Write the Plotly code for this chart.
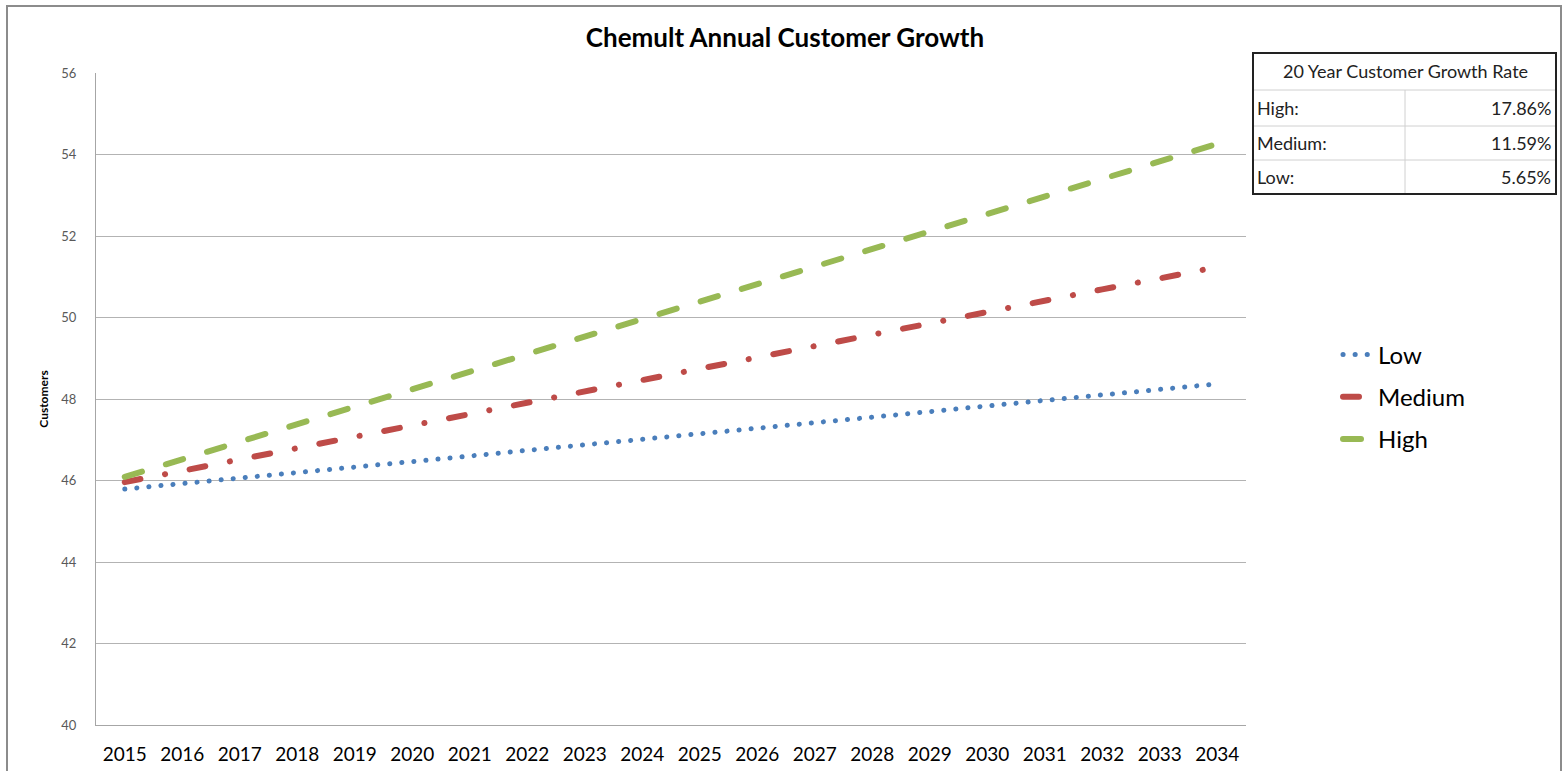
import plotly.graph_objects as go

years = [str(y) for y in range(2015, 2035)]
low = [45.79, 45.93, 46.06, 46.20, 46.33, 46.47, 46.60, 46.74, 46.88, 47.01,
       47.15, 47.28, 47.42, 47.56, 47.69, 47.83, 47.96, 48.10, 48.23, 48.37]
medium = [45.96, 46.24, 46.52, 46.79, 47.07, 47.35, 47.63, 47.91, 48.18, 48.46,
          48.74, 49.02, 49.30, 49.57, 49.85, 50.13, 50.41, 50.69, 50.96, 51.24]
high = [46.09, 46.52, 46.95, 47.38, 47.81, 48.24, 48.67, 49.10, 49.53, 49.96,
        50.39, 50.82, 51.25, 51.68, 52.11, 52.54, 52.97, 53.40, 53.83, 54.26]

table_title = "20 Year Customer Growth Rate"
table_labels = ["High:", "Medium:", "Low:"]
table_values = ["17.86%", "11.59%", "5.65%"]

W, H = 1565, 771
# plot area in pixels
LS, RS, TS, BS = 96, 1246, 73, 725
FONT = "Lato"


def px(x):
    return (x - LS) / (RS - LS)


def py(y):
    return (BS - y) / (BS - TS)


fig = go.Figure()
fig.add_trace(go.Scatter(x=years, y=low, name="Low", mode="lines", legendgroup="a",
                         line=dict(color="#4A7EBB", width=5, dash="0.1px,12px")))
fig.add_trace(go.Scatter(x=years, y=medium, name="Medium", mode="lines", legendgroup="b",
                         line=dict(color="#BE4B48", width=6, dash="16px,25px,0.1px,25px")))
fig.add_trace(go.Scatter(x=years, y=high, name="High", mode="lines", legendgroup="c",
                         line=dict(color="#98B954", width=6, dash="18px,25px")))

shapes = []
annotations = []
# outer chart border
shapes.append(dict(type="rect", xref="paper", yref="paper",
                   x0=px(7), x1=px(1561), y0=py(800), y1=py(6),
                   line=dict(color="#8C8C8C", width=2), layer="below"))
# table
tx0, tx1, tmid = 1253, 1556, 1405
rows = [53, 90, 126, 160, 194]
for yy in rows[1:-1]:
    shapes.append(dict(type="line", xref="paper", yref="paper",
                       x0=px(tx0), x1=px(tx1), y0=py(yy), y1=py(yy),
                       line=dict(color="#D0D0D0", width=1)))
shapes.append(dict(type="line", xref="paper", yref="paper",
                   x0=px(tmid), x1=px(tmid), y0=py(rows[1]), y1=py(rows[-1]),
                   line=dict(color="#D0D0D0", width=1)))
shapes.append(dict(type="rect", xref="paper", yref="paper",
                   x0=px(tx0), x1=px(tx1), y0=py(rows[-1]), y1=py(rows[0]),
                   line=dict(color="#222222", width=2)))
annotations.append(dict(xref="paper", yref="paper", x=px(tmid), y=py((rows[0] + rows[1]) / 2),
                        text=table_title, showarrow=False, xanchor="center", yanchor="middle",
                        font=dict(family=FONT, size=18, color="#222222")))
for i, (lab, val) in enumerate(zip(table_labels, table_values)):
    yc = py((rows[i + 1] + rows[i + 2]) / 2)
    annotations.append(dict(xref="paper", yref="paper", x=px(tx0 + 2), y=yc, text=lab,
                            showarrow=False, xanchor="left", yanchor="middle",
                            font=dict(family=FONT, size=18, color="#222222")))
    annotations.append(dict(xref="paper", yref="paper", x=px(tx1 - 3), y=yc, text=val,
                            showarrow=False, xanchor="right", yanchor="middle",
                            font=dict(family=FONT, size=18, color="#222222")))

fig.update_layout(
    width=W, height=H,
    margin=dict(l=LS, r=W - RS, t=TS, b=H - BS, pad=0),
    paper_bgcolor="white", plot_bgcolor="white",
    title=dict(text="<b>Chemult Annual Customer Growth</b>", x=px(785), xref="paper",
               xanchor="center", y=1 - 38 / H, yanchor="middle",
               font=dict(family=FONT, size=26, color="black")),
    xaxis=dict(type="category", range=[-0.5, 19.5], showgrid=False, automargin=False,
               showline=True, linecolor="#A6A6A6", linewidth=1, ticks="",
               ticklabelstandoff=12,
               tickfont=dict(family=FONT, size=19, color="black")),
    yaxis=dict(range=[40, 56], dtick=2, showgrid=True, gridcolor="#B3B3B3", gridwidth=1,
               showline=True, linecolor="#A6A6A6", linewidth=1, ticks="", automargin=False,
               zeroline=False, ticklabelstandoff=16,
               tickfont=dict(family=FONT, size=13, color="#595959"),
               title=dict(text="<b>Customers</b>", standoff=10,
                          font=dict(family=FONT, size=12, color="black"))),
    legend=dict(x=px(1338), xanchor="left", y=py(397), yanchor="middle",
                traceorder="grouped", tracegroupgap=8,
                font=dict(family=FONT, size=24, color="black"),
                bgcolor="rgba(0,0,0,0)"),
    shapes=shapes, annotations=annotations,
)

page_fix = """
document.body.style.margin = '0';
document.body.style.overflow = 'hidden';
var gd = document.getElementById('{plot_id}');
function roundCaps() {
  gd.querySelectorAll('.scatterlayer path.js-line, .legendlines path').forEach(function (p) {
    p.style.strokeLinecap = 'round';
  });
}
roundCaps();
gd.on('plotly_afterplot', roundCaps);
"""

fig.write_html("out.html", post_script=page_fix, config={"displayModeBar": False})
